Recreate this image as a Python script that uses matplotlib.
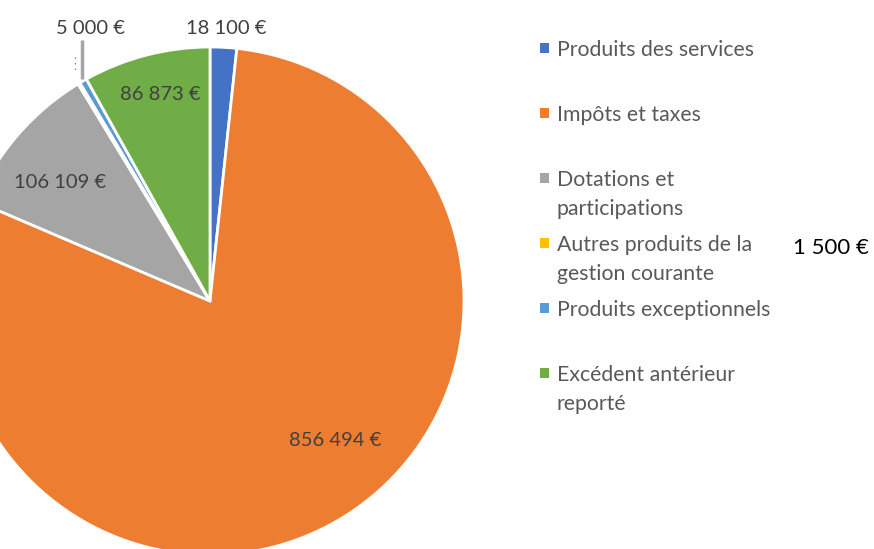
import matplotlib
matplotlib.use("Agg")
import matplotlib.pyplot as plt
import numpy as np

categories = [
    "Produits des services",
    "Impôts et taxes",
    "Dotations et\nparticipations",
    "Autres produits de la\ngestion courante",
    "Produits exceptionnels",
    "Excédent antérieur\nreporté",
]
values = [18100, 856494, 106109, 1500, 5000, 86873]
value_labels = ["18 100 €", "856 494 €", "106 109 €", "1 500 €", "5 000 €", "86 873 €"]
colors = ["#4472C4", "#ED7D31", "#A5A5A5", "#FFC000", "#5B9BD5", "#70AD47"]

# label positions in pixel coords (x, y from top)
label_pos = [(226, 28), (335, 440), (60, 182), (831, 248), (90, 28), (160, 95)]

W, H = 874, 549
plt.rcParams["font.family"] = ["Lato", "DejaVu Sans"]
fig = plt.figure(figsize=(W / 100, H / 100), dpi=100)
ax = fig.add_axes([0, 0, 1, 1])

cx, cy, r = 210, H - 301, 254
ax.pie(
    values,
    colors=colors,
    startangle=90,
    counterclock=False,
    center=(cx, cy),
    radius=r,
    wedgeprops={"edgecolor": "white", "linewidth": 2},
    frame=True,
)
ax.set_xlim(0, W)
ax.set_ylim(0, H)
ax.axis("off")

for i, (txt, (x, y)) in enumerate(zip(value_labels, label_pos)):
    if i == 3:
        ax.text(x, H - y, txt, ha="center", va="center", fontsize=16, color="black")
    else:
        ax.text(x, H - y, txt, ha="center", va="center", fontsize=14.5, color="#404040")

# leader line for the small slice
ax.plot([82, 82], [H - 40, H - 79], color="#A5A5A5", lw=2.5, solid_capstyle="butt")
ax.plot([75, 75], [H - 57, H - 70], color="#808080", lw=1, ls=(0, (1, 3)))

# legend: one entry every 65 px, wrapped lines 29 px apart
for i, (lab, col) in enumerate(zip(categories, colors)):
    y = 48 + i * 65
    ax.add_patch(plt.Rectangle((540, H - y - 5), 9, 10, color=col, lw=0))
    for j, line in enumerate(lab.split("\n")):
        ax.text(557, H - y - j * 29, line, ha="left", va="center_baseline",
                fontsize=15.3, color="#595959")

fig.savefig("out.png", dpi=100)
